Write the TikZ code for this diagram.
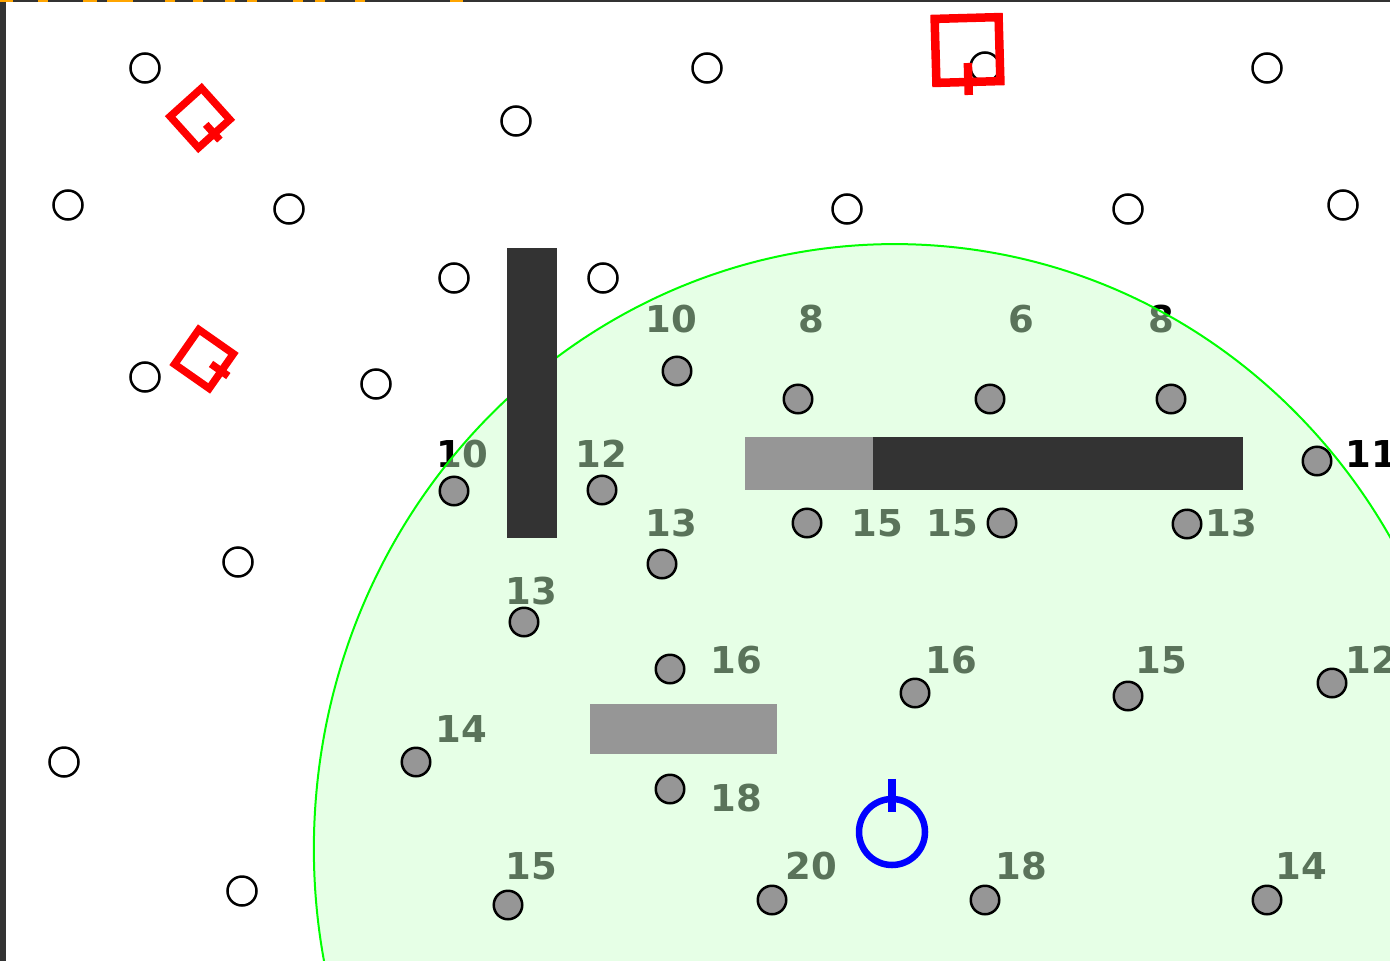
\documentclass[tikz,border=0pt]{standalone}
\usepackage{fontspec}
\setmainfont{DejaVu Sans}
\definecolor{fovfill}{RGB}{200,255,200}
\definecolor{fovborder}{RGB}{0,255,0}
\definecolor{wallfill}{RGB}{51,51,51}
\definecolor{lowfill}{RGB}{150,150,150}
\definecolor{trackred}{RGB}{255,0,0}
\definecolor{robotblue}{RGB}{0,0,255}
\definecolor{hudorange}{RGB}{255,165,0}
\tikzset{
  landmark/.style={circle, draw=black, line width=2.5pt, minimum size=29pt, inner sep=0pt},
  seen/.style={circle, draw=black, fill=lowfill, line width=2.5pt, minimum size=28.5pt, inner sep=0pt},
  rangelabel/.style={font=\fontsize{37}{40}\selectfont\bfseries, text=black, inner sep=0pt},
  wall/.style={fill=wallfill},
  lowwall/.style={fill=lowfill},
  fov/.style={fill=fovfill, fill opacity=0.45, draw=fovborder, line width=2pt},
  tracker/.pic={
    \draw[trackred, line join=miter] (-32,-32) rectangle (32,32);
    \draw[trackred] (0,13) -- (0,45);
  },
}
\begin{document}
\begin{tikzpicture}[x=1pt, y=-1pt]
  \clip (0,0) rectangle (1390,961);
  \fill[white] (0,0) rectangle (1390,961);

  % --- Range labels ---
  \foreach \x/\y/\t [count=\i] in {671/319/10, 811/319/8, 1021/319/6, 1161/319/8,
      462/454/10, 601/454/12, 1371/454/11,
      671/523/13, 877/523/15, 952/523/15, 1231/523/13,
      531/591/13,
      736/660/16, 951/660/16, 1161/660/15, 1371/660/12,
      461/729/14, 736/798/18,
      531/866/15, 811/866/20, 1021/866/18, 1301/866/14}
    \node[rangelabel] (rl-\i) at (\x,\y) {\t};

  % --- Field of view ---
  \path[fov, rotate around={-4:(892,845)}] (892,845) ellipse [x radius=578, y radius=601];

  % --- Unseen landmarks ---
  \foreach \x/\y [count=\i] in {145/68, 707/68, 985/67, 1267/68, 516/121, 68/205, 289/209,
      847/209, 1128/209, 1343/205, 454/278, 603/278, 145/377, 376/384, 238/562, 64/762, 242/891}
    \node[landmark] (lm-\i) at (\x,\y) {};

  % --- Seen landmarks ---
  \foreach \x/\y [count=\i] in {677/371, 798/399, 990/399, 1171/399, 454/491, 602/490, 1317/461,
      807/523, 1002/523, 1187/524, 662/564, 524/622, 670/669, 915/693, 1128/696, 1332/683,
      416/762, 670/789, 508/905, 772/900, 985/900, 1267/900}
    \node[seen] (sl-\i) at (\x,\y) {};

  % --- Walls ---
  \fill[wall] (507,248) rectangle (557,538);
  \fill[lowwall] (745,437) rectangle (873,490);
  \fill[wall] (873,437) rectangle (1243,490);
  \fill[lowwall] (590,704) rectangle (777,754);

  % --- Robot ---
  \node[circle, draw=robotblue, line width=6.5pt, minimum size=66pt, inner sep=0pt] (robot) at (892,832) {};
  \draw[robotblue, line width=8pt] ([yshift=17pt]robot.north) -- ([yshift=-16pt]robot.north);

  % --- Trackers ---
  \pic[line width=8.5pt, rotate=1.6] (tr-top) at (967.5,50) {tracker};
  \pic[line width=7.5pt, scale=0.66, rotate=42] (tr-a) at (200,118) {tracker};
  \pic[line width=7.5pt, scale=0.66, rotate=55] (tr-b) at (204,359) {tracker};

  % --- Frame ---
  \fill[wallfill] (0,0) rectangle (6,961);
  \fill[wallfill] (0,0) rectangle (1390,2);
  \foreach \a/\b in {0/13, 38/48, 83/97, 107/133, 165/175, 193/203, 225/235, 247/257,
      293/303, 315/325, 355/365, 450/463}
    \fill[hudorange] (\a,0) rectangle (\b,2);
\end{tikzpicture}
\end{document}
